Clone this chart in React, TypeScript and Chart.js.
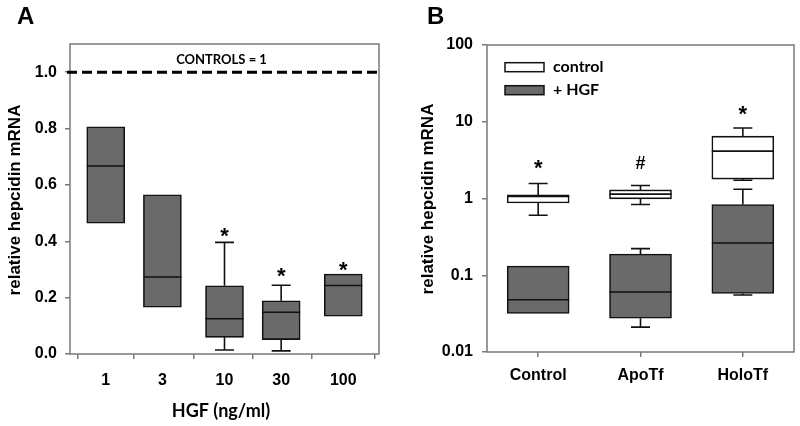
import React, { useEffect, useRef } from "react";
import { Chart, registerables } from "chart.js";

Chart.register(...registerables);

// ---------- Panel A data ----------
const doseLabels = [1, 3, 10, 30, 100];
const aQ1 = [0.464, 0.166, 0.059, 0.051, 0.134];
const aMedian = [0.667, 0.273, 0.125, 0.148, 0.243];
const aQ3 = [0.806, 0.565, 0.242, 0.189, 0.284];
const aWhiskerLow: (number | null)[] = [null, null, 0.014, 0.011, null];
const aWhiskerHigh: (number | null)[] = [null, null, 0.396, 0.244, null];
const aMarks = ["", "", "*", "*", "*"];
const aMarkAt: (number | null)[] = [null, null, 0.43, 0.29, 0.311];
const aYTicks = [0, 0.2, 0.4, 0.6, 0.8, 1.0];
const controlLevel = 1;

// ---------- Panel B data ----------
const groupLabels = ["Control", "ApoTf", "HoloTf"];
const bCtrlQ1 = [0.876, 0.99, 1.79];
const bCtrlMedian = [1.062, 1.14, 4.14];
const bCtrlQ3 = [1.114, 1.295, 6.5];
const bCtrlLow = [0.605, 0.835, 1.73];
const bCtrlHigh = [1.57, 1.48, 8.28];
const bHgfQ1 = [0.0318, 0.0276, 0.058];
const bHgfMedian = [0.048, 0.0604, 0.263];
const bHgfQ3 = [0.132, 0.189, 0.835];
const bHgfLow: (number | null)[] = [null, 0.0211, 0.0552];
const bHgfHigh: (number | null)[] = [null, 0.222, 1.32];
const bMarks = ["*", "#", "*"];
const bMarkAt = [2.75, 2.95, 14.2];
const bYTicks = [0.01, 0.1, 1, 10, 100];

const GRAY = "#6a6a6a";
const FRAME = "#7a7a7a";
const ARIAL = "'Liberation Sans', Arial, sans-serif";
const CALIBRI = "Lato, 'Open Sans', sans-serif";
const tickFont = { family: ARIAL, weight: "bold" as const, size: 16 };

function drawCenteredText(ctx: CanvasRenderingContext2D, s: string, cx: number, cy: number) {
  const m = ctx.measureText(s);
  const base = cy + (m.actualBoundingBoxAscent - m.actualBoundingBoxDescent) / 2;
  ctx.textAlign = "center";
  ctx.textBaseline = "alphabetic";
  ctx.fillText(s, cx, base);
}

function drawMark(ctx: CanvasRenderingContext2D, m: string, cx: number, cy: number) {
  ctx.font = m === "*" ? `bold 22px ${ARIAL}` : `bold 18px ${ARIAL}`;
  drawCenteredText(ctx, m, cx, cy);
}

function drawBoxExtras(
  chart: any,
  xs: (number | string)[],
  xVal: (i: number) => number,
  half: number,
  med: number[],
  q1: number[],
  q3: number[],
  lo: (number | null)[],
  hi: (number | null)[]
) {
  const ctx: CanvasRenderingContext2D = chart.ctx;
  const xS = chart.scales.x;
  const yS = chart.scales.y;
  ctx.save();
  ctx.strokeStyle = "#111";
  ctx.lineWidth = 1.6;
  xs.forEach((_, i) => {
    const cx = xS.getPixelForValue(xVal(i));
    const ym = yS.getPixelForValue(med[i]);
    ctx.beginPath();
    ctx.moveTo(cx - half, ym);
    ctx.lineTo(cx + half, ym);
    ctx.stroke();
    const capHalf = 9.5;
    const h = hi[i];
    if (h != null) {
      const yt = yS.getPixelForValue(q3[i]);
      const yh = yS.getPixelForValue(h);
      ctx.beginPath();
      ctx.moveTo(cx, yt);
      ctx.lineTo(cx, yh);
      ctx.moveTo(cx - capHalf, yh);
      ctx.lineTo(cx + capHalf, yh);
      ctx.stroke();
    }
    const l = lo[i];
    if (l != null) {
      const yb = yS.getPixelForValue(q1[i]);
      const yl = yS.getPixelForValue(l);
      ctx.beginPath();
      ctx.moveTo(cx, yb);
      ctx.lineTo(cx, yl);
      ctx.moveTo(cx - capHalf, yl);
      ctx.lineTo(cx + capHalf, yl);
      ctx.stroke();
    }
  });
  ctx.restore();
}

function drawFrame(chart: any) {
  const { ctx, chartArea: a } = chart;
  ctx.save();
  ctx.strokeStyle = FRAME;
  ctx.lineWidth = 1.5;
  ctx.strokeRect(a.left, a.top, a.right - a.left, a.bottom - a.top);
  ctx.restore();
}

const panelAPlugin = {
  id: "panelA",
  beforeDatasetsDraw(chart: any) {
    drawFrame(chart);
    const { ctx, chartArea: a } = chart;
    const y = chart.scales.y.getPixelForValue(controlLevel);
    ctx.save();
    ctx.strokeStyle = "#000";
    ctx.lineWidth = 3;
    ctx.setLineDash([10, 5]);
    ctx.beginPath();
    ctx.moveTo(a.left - 3, y);
    ctx.lineTo(a.right, y);
    ctx.stroke();
    ctx.restore();
  },
  afterDatasetsDraw(chart: any) {
    drawBoxExtras(chart, doseLabels, (i) => doseLabels[i], 19, aMedian, aQ1, aQ3, aWhiskerLow, aWhiskerHigh);
    const ctx: CanvasRenderingContext2D = chart.ctx;
    ctx.save();
    ctx.fillStyle = "#000";
    aMarks.forEach((m, i) => {
      const v = aMarkAt[i];
      if (!m || v == null) return;
      drawMark(ctx, m, chart.scales.x.getPixelForValue(doseLabels[i]), chart.scales.y.getPixelForValue(v));
    });
    ctx.restore();
  },
  afterDraw(chart: any) {
    const ctx: CanvasRenderingContext2D = chart.ctx;
    ctx.save();
    ctx.fillStyle = "#000";
    ctx.font = `bold 24px ${ARIAL}`;
    ctx.textAlign = "left";
    ctx.textBaseline = "alphabetic";
    ctx.fillText("A", 17, 24);
    ctx.font = `bold 13px ${CALIBRI}`;
    drawCenteredText(ctx, "CONTROLS = 1", 221.5, 59);
    ctx.font = `bold 18px ${CALIBRI}`;
    drawCenteredText(ctx, "HGF (ng/ml)", 221, 411);
    ctx.translate(15, 200);
    ctx.rotate(-Math.PI / 2);
    ctx.font = `bold 17px ${ARIAL}`;
    drawCenteredText(ctx, "relative hepcidin mRNA", 0, 0);
    ctx.restore();
  },
};

const panelBPlugin = {
  id: "panelB",
  beforeDatasetsDraw(chart: any) {
    drawFrame(chart);
  },
  afterDatasetsDraw(chart: any) {
    drawBoxExtras(chart, groupLabels, (i) => i, 31, bCtrlMedian, bCtrlQ1, bCtrlQ3, bCtrlLow, bCtrlHigh);
    drawBoxExtras(chart, groupLabels, (i) => i, 31, bHgfMedian, bHgfQ1, bHgfQ3, bHgfLow, bHgfHigh);
    const ctx: CanvasRenderingContext2D = chart.ctx;
    ctx.save();
    ctx.fillStyle = "#000";
    bMarks.forEach((m, i) => {
      drawMark(ctx, m, chart.scales.x.getPixelForValue(i), chart.scales.y.getPixelForValue(bMarkAt[i]));
    });
    ctx.restore();
  },
  afterDraw(chart: any) {
    const ctx: CanvasRenderingContext2D = chart.ctx;
    ctx.save();
    ctx.fillStyle = "#000";
    ctx.font = `bold 24px ${ARIAL}`;
    ctx.textAlign = "left";
    ctx.textBaseline = "alphabetic";
    ctx.fillText("B", 27, 24);
    // legend
    const items = chart.data.datasets;
    const rows = [67.2, 90.2];
    items.forEach((ds: any, k: number) => {
      const cy = rows[k];
      ctx.fillStyle = ds.backgroundColor;
      ctx.fillRect(105, cy - 4.5, 39, 9);
      ctx.strokeStyle = "#111";
      ctx.lineWidth = 1.5;
      ctx.strokeRect(105, cy - 4.5, 39, 9);
      ctx.fillStyle = "#000";
      ctx.font = `bold 16px ${CALIBRI}`;
      ctx.textAlign = "left";
      ctx.textBaseline = "middle";
      ctx.fillText(ds.label, 153, cy);
    });
    ctx.translate(33.5, 199);
    ctx.rotate(-Math.PI / 2);
    ctx.font = `bold 17px ${ARIAL}`;
    drawCenteredText(ctx, "relative hepcidin mRNA", 0, 0);
    ctx.restore();
  },
};

function useChart(ref: React.RefObject<HTMLCanvasElement>, make: (c: HTMLCanvasElement) => Chart) {
  useEffect(() => {
    if (!ref.current) return;
    const ch = make(ref.current);
    return () => ch.destroy();
  }, []);
}

export default function App() {
  const refA = useRef<HTMLCanvasElement>(null);
  const refB = useRef<HTMLCanvasElement>(null);

  useChart(refA as any, (c) =>
    new Chart(c, {
      type: "bar",
      data: {
        datasets: [
          {
            label: "HGF",
            data: doseLabels.map((d, i) => ({ x: d, y: [aQ1[i], aQ3[i]] })) as any,
            backgroundColor: GRAY,
            borderColor: "#111",
            borderWidth: 1.6,
            borderSkipped: false,
            barThickness: 38,
          },
        ],
      },
      options: {
        responsive: false,
        animation: false,
        layout: { padding: { top: 44, right: 21, left: 0, bottom: 0 } },
        plugins: { legend: { display: false }, tooltip: { enabled: false } },
        scales: {
          x: {
            type: "logarithmic",
            min: 0.5,
            max: 200,
            afterFit: (s: any) => {
              s.height = 72;
            },
            afterBuildTicks: (s: any) => {
              s.ticks = doseLabels.map((v) => ({ value: v }));
            },
            ticks: { font: tickFont, color: "#000", padding: 12, autoSkip: false, maxRotation: 0, callback: (v: any) => String(v) },
            grid: { drawOnChartArea: false, tickLength: 5, color: FRAME, lineWidth: 1.5 },
            border: { display: false },
          },
          y: {
            type: "linear",
            min: 0,
            max: 1.1,
            afterFit: (s: any) => {
              s.width = 70;
            },
            afterBuildTicks: (s: any) => {
              s.ticks = aYTicks.map((v) => ({ value: v }));
            },
            ticks: { font: tickFont, color: "#000", padding: 8, callback: (v: any) => Number(v).toFixed(1) },
            grid: { drawOnChartArea: false, tickLength: 5, color: FRAME, lineWidth: 1.5 },
            border: { display: false },
          },
        },
      } as any,
      plugins: [panelAPlugin],
    })
  );

  useChart(refB as any, (c) =>
    new Chart(c, {
      type: "bar",
      data: {
        labels: groupLabels,
        datasets: [
          {
            label: "control",
            data: groupLabels.map((_, i) => [bCtrlQ1[i], bCtrlQ3[i]]) as any,
            backgroundColor: "#ffffff",
            borderColor: "#111",
            borderWidth: 1.6,
            borderSkipped: false,
            barThickness: 62,
            grouped: false,
          },
          {
            label: "+ HGF",
            data: groupLabels.map((_, i) => [bHgfQ1[i], bHgfQ3[i]]) as any,
            backgroundColor: GRAY,
            borderColor: "#111",
            borderWidth: 1.6,
            borderSkipped: false,
            barThickness: 62,
            grouped: false,
          },
        ],
      },
      options: {
        responsive: false,
        animation: false,
        layout: { padding: { top: 45, right: 6, left: 0, bottom: 0 } },
        plugins: { legend: { display: false }, tooltip: { enabled: false } },
        scales: {
          x: {
            type: "category",
            offset: true,
            afterFit: (s: any) => {
              s.height = 74;
            },
            ticks: { font: tickFont, color: "#000", padding: 9, maxRotation: 0 },
            grid: { offset: false, drawOnChartArea: false, tickLength: 5, color: FRAME, lineWidth: 1.5 },
            border: { display: false },
          },
          y: {
            type: "logarithmic",
            min: 0.01,
            max: 100,
            afterFit: (s: any) => {
              s.width = 87;
            },
            afterBuildTicks: (s: any) => {
              s.ticks = bYTicks.map((v) => ({ value: v }));
            },
            ticks: { font: tickFont, color: "#000", padding: 9, callback: (v: any) => String(v) },
            grid: { drawOnChartArea: false, tickLength: 5, color: FRAME, lineWidth: 1.5 },
            border: { display: false },
          },
        },
      } as any,
      plugins: [panelBPlugin],
    })
  );

  return (
    <div style={{ position: "absolute", left: 0, top: 0, width: 800, height: 426, background: "#fff" }}>
      <canvas ref={refA} width={400} height={426} style={{ position: "absolute", left: 0, top: 0, width: 400, height: 426 }} />
      <canvas ref={refB} width={400} height={426} style={{ position: "absolute", left: 400, top: 0, width: 400, height: 426 }} />
    </div>
  );
}
